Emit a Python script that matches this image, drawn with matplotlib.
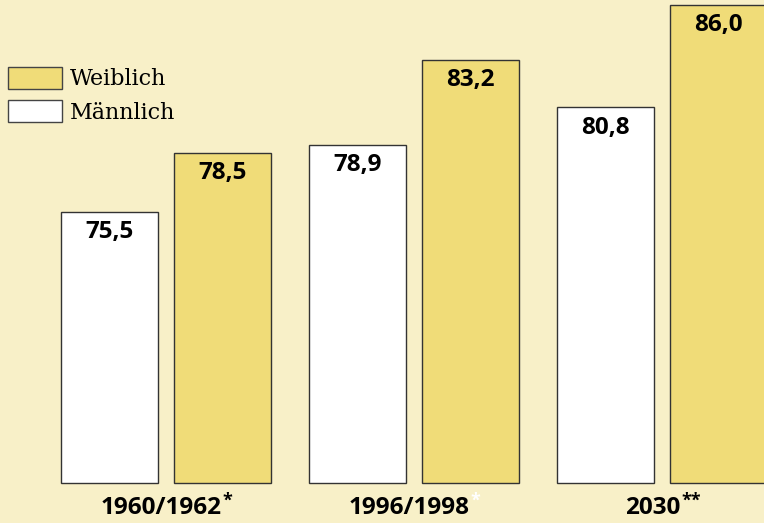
import numpy as np
import matplotlib.pyplot as plt
from matplotlib.patches import Patch

# Lebenserwartung bei Geburt
groups = ["1960/1962", "1996/1998", "2030"]
marks = ["*", "*", "**"]
mark_colors = ["black", "white", "black"]
maennlich = [75.5, 78.9, 80.8]
weiblich = [78.5, 83.2, 86.0]

bg = "#f8f0c8"
gelb = "#f0dc78"
base = 61.75

fig = plt.figure(figsize=(7.64, 5.23), dpi=100, facecolor=bg)
ax = fig.add_axes([0, 0, 1, 1])
ax.set_facecolor(bg)
ax.set_xlim(-0.669, 2.411)
ax.set_ylim(59.72, 86.25)
ax.axis("off")

x = np.arange(len(groups))
w = 0.391
off = 0.228
b1 = ax.bar(x - off, np.array(maennlich) - base, bottom=base, width=w,
            color="white", edgecolor="#333333", linewidth=1)
b2 = ax.bar(x + off, np.array(weiblich) - base, bottom=base, width=w,
            color=gelb, edgecolor="#333333", linewidth=1)

num_font = dict(family="Open Sans", fontweight="bold", fontsize=17.5)
for xi, v in zip(x - off, maennlich):
    ax.annotate(f"{v:.1f}".replace(".", ","), (xi, v), xytext=(0, -14.5),
                textcoords="offset points", ha="center", va="center", **num_font)
for xi, v in zip(x + off, weiblich):
    ax.annotate(f"{v:.1f}".replace(".", ","), (xi, v), xytext=(0, -14.5),
                textcoords="offset points", ha="center", va="center", **num_font)

# x labels with superscript marks, centred as a whole under each group
fig.canvas.draw()
r = fig.canvas.get_renderer()
for xi, g, m, mc in zip(x, groups, marks, mark_colors):
    t = ax.text(xi, 0.029, g, transform=ax.get_xaxis_transform(),
                ha="center", va="center", family="Open Sans",
                fontweight="bold", fontsize=17.5)
    s = ax.text(xi, 0.043, m, transform=ax.get_xaxis_transform(),
                ha="left", va="center", family="Open Sans",
                fontweight="bold", fontsize=13, color=mc)
    wt = t.get_window_extent(r).width
    ws = s.get_window_extent(r).width
    px = ax.transData.transform((xi, 0))[0]
    tx = px - ws / 2
    t.set_x(ax.transData.inverted().transform((tx, 0))[0])
    s.set_x(ax.transData.inverted().transform((tx + wt / 2 + 1, 0))[0])

handles = [Patch(facecolor=gelb, edgecolor="#444444", linewidth=1),
           Patch(facecolor="white", edgecolor="#444444", linewidth=1)]
ax.legend(handles, ["Weiblich", "Männlich"], loc="upper left",
          bbox_to_anchor=(8 / 764, 1 - 67 / 523), frameon=False,
          prop=dict(family="DejaVu Serif", size=16),
          handlelength=2.43, handleheight=1.12, handletextpad=0.36,
          labelspacing=0.45, borderpad=0, borderaxespad=0)

fig.savefig("out.png", dpi=100, facecolor=bg)
